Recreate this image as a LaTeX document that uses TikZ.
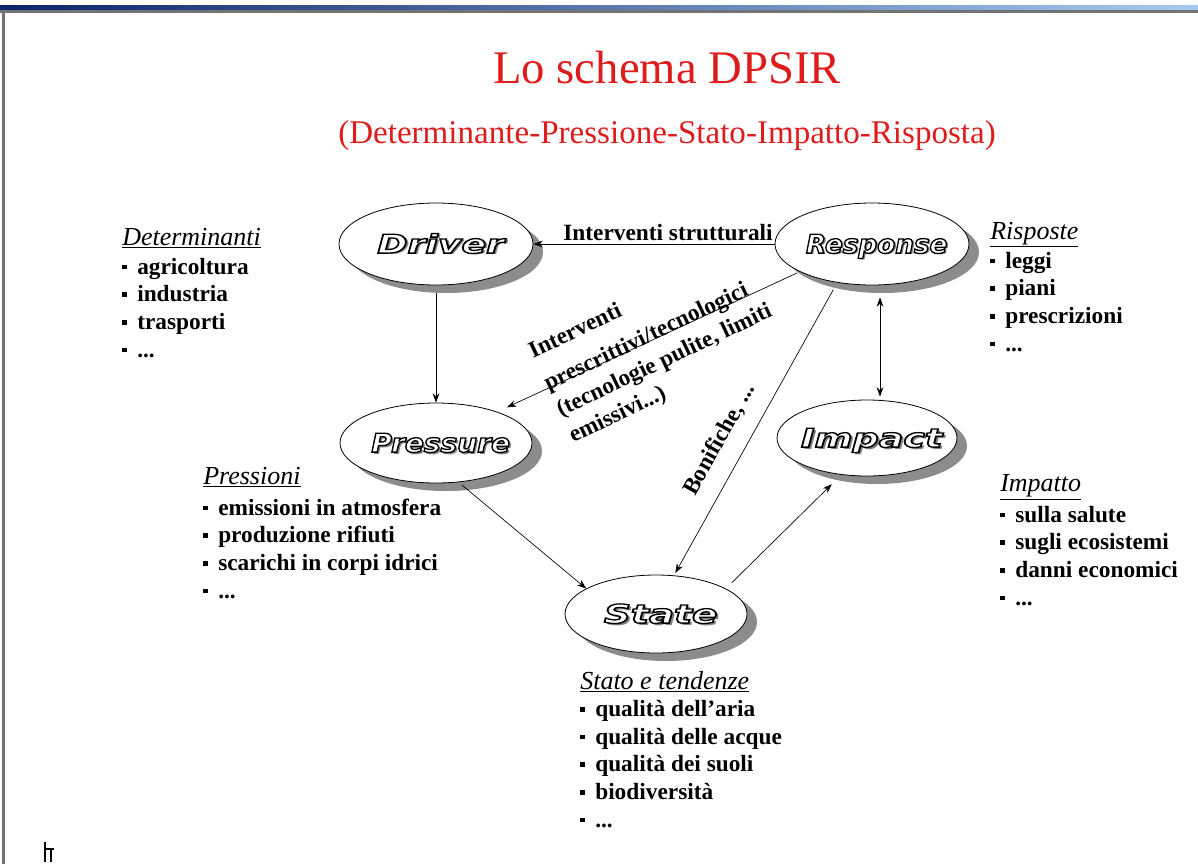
\documentclass[tikz,border=0pt]{standalone}
\usepackage{fontspec}
\setmainfont{Liberation Serif}
\newfontfamily\elfont{DejaVu Sans}
\usetikzlibrary{arrows.meta,shapes.geometric,shadows,calc}
\definecolor{titred}{RGB}{222,28,28}
\definecolor{bardark}{RGB}{12,36,106}
\definecolor{barlight}{RGB}{166,202,240}
\newcommand\olt[2]{\smash{\makebox[0pt]{\hspace{7pt}\raisebox{-0.38em}{\resizebox{#1}{1.08\height}{\rlap{\hspace{1.3pt}\raisebox{-1.3pt}{\textcolor{black!50}{#2}}}\special{pdf:literal direct 2 Tr 0.9 w 0 G 1 g}#2\special{pdf:literal direct 0 Tr 0 g 0 G}}}}}}
\newcommand\bul{\makebox[11.25pt][l]{\raisebox{3.6pt}{\rule{3.4pt}{3.4pt}}}}
\newcommand\hd[1]{{\mdseries\itshape\fontsize{19.5}{20.7}\selectfont\underline{#1}}}
\tikzset{
 stage/.style={ellipse, draw=black, line width=0.6pt, fill=white, inner sep=0pt,
   drop shadow={shadow xshift=7.5pt, shadow yshift=-6pt, fill=black!45, opacity=1},
   font=\elfont\bfseries\itshape\fontsize{18}{18}\selectfont},
 arr/.style={-{Stealth[length=7pt,width=5pt]}, line width=0.5pt},
 dbl/.style={{Stealth[length=7pt,width=5pt]}-{Stealth[length=7pt,width=5pt]}, line width=0.5pt},
 lbl/.style={font=\bfseries\fontsize{17.5}{21}\selectfont, inner sep=0pt},
 lst/.style={align=left, inner sep=0pt, anchor=base west, font=\bfseries\fontsize{17.5}{20.7}\selectfont},
}
\begin{document}
\begin{tikzpicture}[x=0.75pt,y=-0.75pt]
\useasboundingbox (0,0) rectangle (1198,864);
\fill[white] (0,0) rectangle (1198,864);
% window frame
\shade[left color=bardark, right color=barlight] (0,5) rectangle (1198,9.5);
\fill[black!55] (0,9.5) rectangle (1198,12.5);
\fill[black!55] (1.5,9.5) rectangle (4.5,864);
% small cursor mark, bottom left
\draw[line width=1.5pt] (45,842) -- (45,862);
\draw[line width=0.8pt] (44,849) -- (54,849) (51,849) -- (51,862);

% titles
\node[font=\fontsize{35}{40}\selectfont, text=titred, anchor=base, inner sep=0pt] (title) at (667,83) {Lo schema DPSIR};
\node[font=\fontsize{24.8}{28}\selectfont, text=titred, anchor=base, inner sep=0pt] (sub) at (667,143) {(Determinante-Pressione-Stato-Impatto-Risposta)};

% stages
\node[stage, minimum width=145.5pt, minimum height=61.5pt] (D) at (436,244) {\olt{95pt}{Driver}};
\node[stage, minimum width=145.5pt, minimum height=61.5pt] (R) at (872,244) {\olt{106pt}{Response}};
\node[stage, minimum width=144pt, minimum height=60pt] (P) at (436,443) {\olt{104pt}{Pressure}};
\node[stage, minimum width=135pt, minimum height=57pt] (I) at (867,438) {\olt{106pt}{Impact}};
\node[stage, minimum width=136.5pt, minimum height=58.5pt] (S) at (656,614) {\olt{85pt}{State}};

% connectors
\draw[arr] (R.west) -- (D.east);
\draw[arr, shorten <=6pt] (D) -- (P);
\draw[arr, shorten <=2pt, shorten >=8pt] (R.201) -- (P.27);
\draw[arr, shorten <=6pt, shorten >=2pt] (R.228) -- (S.65);
\draw[dbl] ($(R.south)+(8,12)$) -- ($(I.north)+(13,-3)$);
\draw[arr, shorten <=3pt] (P.300) -- (S.160);
\draw[arr, shorten <=6pt, shorten >=10pt] (S.20) -- (I.235);

% connector labels
\node[lbl, anchor=base] (lstr) at (668,240) {Interventi strutturali};
\node[lst, rotate=25.4] (lpres) at (573,443) {Interventi\\[6pt]prescrittivi/tecnologici\\[1pt](tecnologie pulite, limiti\\[1pt]emissivi...)};
\node[lst, rotate=61] (lbon) at (695,497) {Bonifiche, ...};

% lists (anchor = baseline of the last line)
\node[lst] (ldet) at (122,357) {\hd{Determinanti}\\[1pt]\bul agricoltura\\\bul industria\\\bul trasporti\\\bul ...};
\node[lst] (lris) at (990,351) {\hd{Risposte}\\[1pt]\bul leggi\\\bul piani\\\bul prescrizioni\\\bul ...};
\node[lst] (lpre) at (203,598) {\hd{Pressioni}\\[2.5pt]\bul emissioni in atmosfera\\\bul produzione rifiuti\\\bul scarichi in corpi idrici\\\bul ...};
\node[lst] (limp) at (1000,605) {\hd{Impatto}\\[2pt]\bul sulla salute\\\bul sugli ecosistemi\\\bul danni economici\\\bul ...};
\node[lst] (lsta) at (580,827) {\hd{Stato e tendenze}\\[0pt]\bul qualità dell'aria\\\bul qualità delle acque\\\bul qualità dei suoli\\\bul biodiversità\\\bul ...};
\end{tikzpicture}
\end{document}
